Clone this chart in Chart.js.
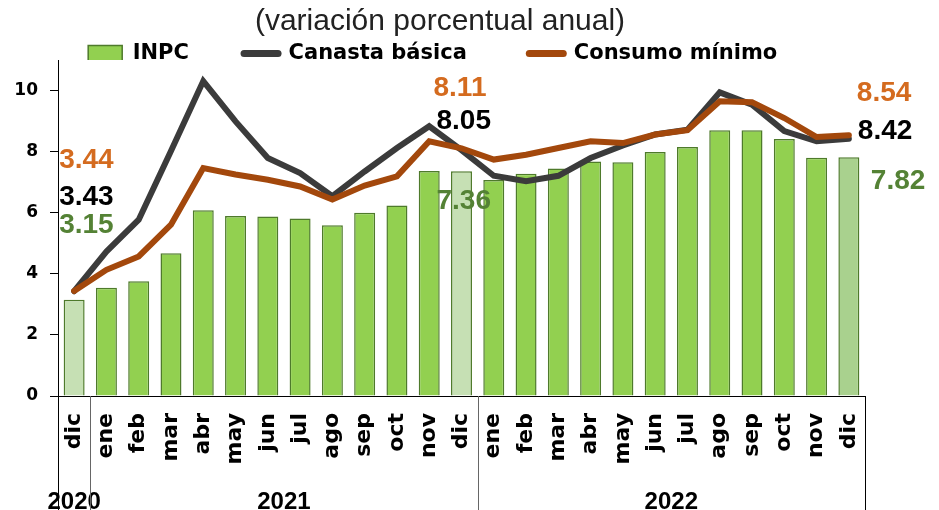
<!DOCTYPE html>
<html>
<head>
<meta charset="utf-8">
<script src="https://cdn.jsdelivr.net/npm/chart.js"></script>
<style>
  body { margin: 0; background: #fff; }
  #wrap { width: 939px; height: 510px; }
</style>
</head>
<body>
<div id="wrap"><canvas id="inflacionChart"></canvas></div>
<script>
// Months, Dec 2020 to Dec 2022
const months = ['dic', 'ene', 'feb', 'mar', 'abr', 'may', 'jun', 'jul', 'ago', 'sep', 'oct', 'nov', 'dic',
  'ene', 'feb', 'mar', 'abr', 'may', 'jun', 'jul', 'ago', 'sep', 'oct', 'nov', 'dic'];

// Year groups (first and last month index of each year)
const years = ['2020', '2021', '2022'];
const yearFirst = [0, 1, 13];
const yearLast = [0, 12, 24];

// Annual % change
const inpc = [3.15, 3.54, 3.76, 4.67, 6.08, 5.89, 5.88, 5.81, 5.59, 6.00, 6.24, 7.37, 7.36,
  7.07, 7.28, 7.45, 7.68, 7.65, 7.99, 8.15, 8.70, 8.70, 8.41, 7.80, 7.82];
const canastaBasica = [3.43, 4.73, 5.77, 8.02, 10.31, 8.99, 7.79, 7.30, 6.54, 7.35, 8.12, 8.83, 8.05,
  7.21, 7.03, 7.21, 7.79, 8.20, 8.56, 8.72, 9.94, 9.54, 8.67, 8.34, 8.42];
const consumoMinimo = [3.44, 4.13, 4.57, 5.61, 7.46, 7.25, 7.08, 6.86, 6.43, 6.89, 7.19, 8.34, 8.11,
  7.74, 7.90, 8.12, 8.34, 8.28, 8.56, 8.70, 9.65, 9.62, 9.10, 8.48, 8.54];

const yTicks = [0, 2, 4, 6, 8, 10];

const green = '#92D050';
const greenBorder = '#4E7A2B';
const lightGreen = '#C6E0B4';
const midGreen = '#A9D18E';
const darkLine = '#3B3B3B';
const orangeLine = '#A3480C';
const orangeText = '#D46B1F';
const greenText = '#548235';

// value labels: dataset, month index, offset from the point
const valueLabels = [
  { ds: 2, i: 0, dx: -15, dy: -131, color: orangeText },
  { ds: 1, i: 0, dx: -15, dy: -94, color: '#000' },
  { ds: 0, i: 0, dx: -15, dy: -75, color: greenText },
  { ds: 2, i: 12, dx: -28, dy: -60, color: orangeText },
  { ds: 1, i: 12, dx: -25, dy: -29, color: '#000' },
  { ds: 0, i: 12, dx: -25, dy: 30, color: greenText },
  { ds: 2, i: 24, dx: 8, dy: -42, color: orangeText },
  { ds: 1, i: 24, dx: 9, dy: -8, color: '#000' },
  { ds: 0, i: 24, dx: 22, dy: 24, color: greenText },
];

const labelPlugin = {
  id: 'valueLabels',
  afterDatasetsDraw(chart) {
    const ctx = chart.ctx;
    ctx.save();
    ctx.font = 'bold 28px "Liberation Sans"';
    ctx.textAlign = 'left';
    ctx.textBaseline = 'middle';
    valueLabels.forEach((l) => {
      const el = chart.getDatasetMeta(l.ds).data[l.i];
      ctx.fillStyle = l.color;
      ctx.fillText(chart.data.datasets[l.ds].data[l.i].toFixed(2), el.x + l.dx, el.y + l.dy);
    });
    ctx.restore();
  },
};

// vertical separators below the axis between the year groups
const separatorPlugin = {
  id: 'separators',
  afterDraw(chart) {
    const x = chart.scales.x;
    const ctx = chart.ctx;
    const half = (x.getPixelForValue(1) - x.getPixelForValue(0)) / 2;
    const edges = [0, 1, 13, 25];
    ctx.save();
    ctx.lineWidth = 1;
    edges.forEach((e, k) => {
      const px = Math.round(x.getPixelForValue(e) - half) + 0.5;
      ctx.strokeStyle = (k === 0 || k === edges.length - 1) ? '#000' : '#666';
      ctx.beginPath();
      ctx.moveTo(px, chart.chartArea.bottom);
      ctx.lineTo(px, chart.height);
      ctx.stroke();
    });
    ctx.restore();
  },
};

const ctx = document.getElementById('inflacionChart').getContext('2d');
const chart = new Chart(ctx, {
  type: 'bar',
  data: {
    labels: months,
    datasets: [
      {
        label: 'INPC',
        data: inpc,
        backgroundColor: (c) => (c.dataIndex === 24 ? midGreen : (c.dataIndex === 0 || c.dataIndex === 12) ? lightGreen : green),
        borderColor: greenBorder,
        borderWidth: 1.5,
        barPercentage: 0.65,
        categoryPercentage: 1,
        order: 3,
      },
      {
        label: 'Canasta básica',
        type: 'line',
        data: canastaBasica,
        borderColor: darkLine,
        borderWidth: 6,
        pointRadius: 0,
        borderCapStyle: 'round',
        tension: 0,
        order: 2,
      },
      {
        label: 'Consumo mínimo',
        type: 'line',
        data: consumoMinimo,
        borderColor: orangeLine,
        borderWidth: 6,
        pointRadius: 0,
        borderCapStyle: 'round',
        tension: 0,
        order: 1,
      },
    ],
  },
  options: {
    responsive: true,
    maintainAspectRatio: false,
    animation: false,
    devicePixelRatio: 1,
    layout: { padding: { left: 15, right: 74, top: 0, bottom: 0 } },
    plugins: {
      tooltip: { enabled: false },
      title: {
        display: true,
        text: '(variación porcentual anual)',
        color: '#222',
        font: { family: '"Liberation Sans"', size: 30, weight: 'normal' },
        padding: { top: 4, bottom: -1 },
      },
      legend: {
        display: true,
        position: 'top',
        maxHeight: 21,
        labels: {
          usePointStyle: true,
          pointStyleWidth: 34,
          boxHeight: 16,
          padding: 4,
          color: '#000',
          font: { family: '"DejaVu Sans"', size: 21, weight: 'bold' },
          generateLabels: () => [
            { text: 'INPC' + ' '.repeat(7), fillStyle: green, strokeStyle: greenBorder, lineWidth: 1.5, pointStyle: 'rect', datasetIndex: 0, hidden: false },
            { text: 'Canasta básica' + ' '.repeat(8), fillStyle: darkLine, strokeStyle: darkLine, lineWidth: 7, lineCap: 'round', pointStyle: 'line', datasetIndex: 1, hidden: false },
            { text: 'Consumo mínimo' + ' '.repeat(2), fillStyle: orangeLine, strokeStyle: orangeLine, lineWidth: 7, lineCap: 'round', pointStyle: 'line', datasetIndex: 2, hidden: false },
          ],
        },
      },
    },
    scales: {
      x: {
        type: 'category',
        offset: true,
        grid: { display: false },
        border: { display: true, color: '#000', width: 1 },
        ticks: {
          autoSkip: false,
          minRotation: 90,
          maxRotation: 90,
          padding: 9,
          color: '#000',
          font: { family: '"DejaVu Sans"', size: 22, weight: 'bold' },
        },
        afterFit: (s) => { s.height = 72; },
        weight: 0,
      },
      x2: {
        type: 'linear',
        position: 'bottom',
        min: -0.5,
        max: months.length - 0.5,
        offset: false,
        weight: 1,
        grid: { display: false, offset: false },
        border: { display: false },
        afterBuildTicks: (s) => {
          s.ticks = years.map((y, k) => ({ value: (yearFirst[k] + yearLast[k]) / 2 }));
        },
        ticks: {
          autoSkip: false,
          maxRotation: 0,
          padding: 12,
          color: '#000',
          font: { family: '"Liberation Sans"', size: 24, weight: 'bold' },
          callback: (v) => {
            const k = years.findIndex((y, j) => (yearFirst[j] + yearLast[j]) / 2 === v);
            return k >= 0 ? years[k] : '';
          },
        },
        afterFit: (s) => { s.height = 42; },
      },
      y: {
        min: 0,
        max: 11,
        afterBuildTicks: (s) => { s.ticks = yTicks.map((v) => ({ value: v })); },
        grid: { drawOnChartArea: false, drawTicks: true, tickLength: 8, color: '#000' },
        border: { display: true, color: '#000', width: 1 },
        ticks: {
          padding: 12,
          color: '#000',
          font: { family: '"DejaVu Sans"', size: 17, weight: 'bold' },
        },
        afterFit: (s) => { s.width = 43; },
      },
    },
  },
  plugins: [labelPlugin, separatorPlugin],
});
</script>
</body>
</html>
